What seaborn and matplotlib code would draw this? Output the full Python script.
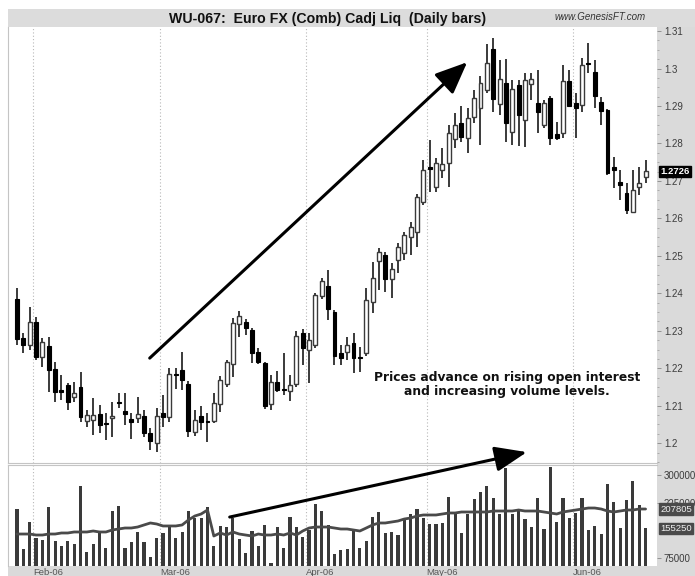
import matplotlib
matplotlib.use("Agg")
import matplotlib.pyplot as plt
from matplotlib.patches import Rectangle
from matplotlib.ticker import FixedLocator, FuncFormatter, MultipleLocator
import numpy as np
import pandas as pd
import seaborn as sns


# Daily bars, Euro FX, late Jan 2006 to mid Jun 2006
OPEN = [
    1.2385, 1.2280, 1.2262, 1.2323, 1.2230, 1.2259, 1.2198, 1.2142, 1.2155, 1.2123,
    1.2150, 1.2059, 1.2061, 1.2077, 1.2055, 1.2067, 1.2110, 1.2085, 1.2064, 1.2067,
    1.2072, 1.2027, 1.2000, 1.2080, 1.2069, 1.2184, 1.2195, 1.2158, 1.2029, 1.2072,
    1.2058, 1.2059, 1.2104, 1.2158, 1.2211, 1.2318, 1.2323, 1.2302, 1.2243, 1.2214,
    1.2104, 1.2163, 1.2144, 1.2139, 1.2158, 1.2294, 1.2248, 1.2262, 1.2392, 1.2419,
    1.2350, 1.2240, 1.2243, 1.2267, 1.2230, 1.2240, 1.2376, 1.2486, 1.2502, 1.2438,
    1.2489, 1.2507, 1.2550, 1.2563, 1.2643, 1.2737, 1.2684, 1.2729, 1.2748, 1.2812,
    1.2854, 1.2814, 1.2870, 1.2894, 1.2943, 1.3052, 1.2905, 1.2961, 1.2830, 1.2956,
    1.2862, 1.2959, 1.2908, 1.2849, 1.2921, 1.2825, 1.2828, 1.2967, 1.2908, 1.2902,
    1.3015, 1.2991, 1.2911, 1.2889, 1.2737, 1.2697, 1.2668, 1.2617, 1.2684, 1.2710,
]
HIGH = [
    1.2414, 1.2294, 1.2363, 1.2336, 1.2280, 1.2283, 1.2216, 1.2182, 1.2160, 1.2163,
    1.2190, 1.2088, 1.2120, 1.2101, 1.2080, 1.2109, 1.2134, 1.2134, 1.2080, 1.2123,
    1.2088, 1.2040, 1.2093, 1.2128, 1.2200, 1.2200, 1.2243, 1.2166, 1.2088, 1.2099,
    1.2080, 1.2134, 1.2179, 1.2222, 1.2334, 1.2352, 1.2331, 1.2307, 1.2254, 1.2216,
    1.2182, 1.2192, 1.2240, 1.2182, 1.2299, 1.2304, 1.2294, 1.2400, 1.2441, 1.2462,
    1.2355, 1.2262, 1.2283, 1.2294, 1.2256, 1.2414, 1.2483, 1.2521, 1.2510, 1.2481,
    1.2534, 1.2563, 1.2590, 1.2665, 1.2756, 1.2809, 1.2761, 1.2788, 1.2849, 1.2881,
    1.2900, 1.2894, 1.2943, 1.2980, 1.3065, 1.3081, 1.3023, 1.3025, 1.2969, 1.2969,
    1.2988, 1.2988, 1.2996, 1.2916, 1.2927, 1.2857, 1.3009, 1.2996, 1.2935, 1.3028,
    1.3068, 1.3023, 1.2924, 1.2892, 1.2764, 1.2729, 1.2694, 1.2729, 1.2737, 1.2756,
]
LOW = [
    1.2262, 1.2240, 1.2248, 1.2222, 1.2203, 1.2136, 1.2110, 1.2115, 1.2088, 1.2110,
    1.2056, 1.2043, 1.2021, 1.2027, 1.2008, 1.2016, 1.2093, 1.2048, 1.2011, 1.2053,
    1.2016, 1.1981, 1.1976, 1.2043, 1.2056, 1.2144, 1.2142, 1.2016, 1.2019, 1.2035,
    1.2003, 1.2053, 1.2083, 1.2150, 1.2176, 1.2283, 1.2288, 1.2214, 1.2211, 1.2091,
    1.2088, 1.2136, 1.2128, 1.2112, 1.2150, 1.2208, 1.2160, 1.2254, 1.2384, 1.2328,
    1.2208, 1.2208, 1.2222, 1.2187, 1.2190, 1.2232, 1.2347, 1.2409, 1.2403, 1.2387,
    1.2454, 1.2489, 1.2502, 1.2523, 1.2635, 1.2670, 1.2670, 1.2708, 1.2684, 1.2788,
    1.2804, 1.2774, 1.2854, 1.2796, 1.2935, 1.2884, 1.2876, 1.2804, 1.2796, 1.2793,
    1.2790, 1.2916, 1.2828, 1.2841, 1.2796, 1.2809, 1.2814, 1.2897, 1.2814, 1.2884,
    1.2988, 1.2894, 1.2849, 1.2716, 1.2681, 1.2649, 1.2611, 1.2614, 1.2662, 1.2694,
]
CLOSE = [
    1.2278, 1.2262, 1.2323, 1.2230, 1.2270, 1.2195, 1.2136, 1.2136, 1.2110, 1.2134,
    1.2069, 1.2075, 1.2075, 1.2048, 1.2052, 1.2072, 1.2107, 1.2077, 1.2056, 1.2077,
    1.2027, 1.2005, 1.2072, 1.2069, 1.2184, 1.2182, 1.2168, 1.2032, 1.2061, 1.2056,
    1.2056, 1.2107, 1.2168, 1.2216, 1.2320, 1.2339, 1.2307, 1.2240, 1.2216, 1.2099,
    1.2163, 1.2142, 1.2142, 1.2155, 1.2286, 1.2254, 1.2275, 1.2395, 1.2433, 1.2358,
    1.2232, 1.2227, 1.2262, 1.2227, 1.2227, 1.2382, 1.2441, 1.2510, 1.2438, 1.2465,
    1.2523, 1.2555, 1.2577, 1.2657, 1.2729, 1.2732, 1.2748, 1.2745, 1.2828, 1.2849,
    1.2817, 1.2868, 1.2921, 1.2961, 1.3015, 1.2919, 1.2972, 1.2854, 1.2945, 1.2876,
    1.2969, 1.2972, 1.2884, 1.2908, 1.2814, 1.2814, 1.2967, 1.2900, 1.2894, 1.3009,
    1.3012, 1.2927, 1.2886, 1.2721, 1.2729, 1.2689, 1.2622, 1.2676, 1.2694, 1.2726,
]
VOLUME = [
    207800, 99400, 172600, 129200, 123800, 213200, 121100, 107500, 121100, 112900,
    270200, 91300, 112900, 148200, 102100, 202400, 216000, 102100, 118400, 145500,
    118400, 77700, 129200, 142800, 164500, 129200, 145500, 202400, 183400, 183400,
    213200, 107500, 161800, 159000, 183400, 126500, 88600, 148200, 107500, 164500,
    61400, 159000, 102100, 186100, 159000, 131900, 150900, 221400, 202400, 164500,
    85800, 96700, 99400, 148200, 102100, 121100, 186100, 199700, 142800, 145500,
    137300, 178000, 194300, 207800, 183400, 167200, 167200, 169900, 240400, 197000,
    142800, 194300, 234900, 253900, 270200, 237600, 194300, 319000, 194300, 202400,
    180700, 159000, 237600, 153600, 321700, 172600, 237600, 183400, 197000, 237600,
    150900, 161800, 140000, 275600, 226800, 156300, 232200, 283700, 218700, 155250,
]
OPEN_INTEREST = [
    140000, 140000, 140000, 137300, 137300, 140000, 140000, 142800, 142800, 145500,
    145500, 145500, 148200, 145500, 145500, 150900, 153600, 156300, 156300, 159000,
    164500, 169900, 167200, 161800, 161800, 161800, 164500, 178000, 188800, 194300,
    205100, 134600, 142800, 137300, 145500, 140000, 137300, 134600, 140000, 137300,
    137300, 140000, 137300, 142800, 137300, 148200, 156300, 159000, 159000, 159000,
    156300, 153600, 153600, 150900, 148200, 156300, 164500, 169900, 169900, 172600,
    175300, 180700, 183400, 188800, 191600, 191600, 191600, 194300, 197000, 197000,
    199700, 199700, 199700, 199700, 199700, 202400, 202400, 202400, 202400, 205100,
    202400, 202400, 202400, 199700, 197000, 194300, 199700, 202400, 205100, 207800,
    210500, 210500, 207800, 202400, 199700, 202400, 205100, 205100, 207800, 207805,
]
MONTH_LABELS = ["Feb-06", "Mar-06", "Apr-06", "May-06", "Jun-06"]
MONTH_FIRST_BAR = [3, 23, 46, 65, 88]

PRICE_TICKS = [1.20, 1.21, 1.22, 1.23, 1.24, 1.25, 1.26, 1.27, 1.28, 1.29, 1.30, 1.31]
VOLUME_TICKS = [75000, 225000, 300000]

TITLE = "WU-067:  Euro FX (Comb) Cadj Liq  (Daily bars)"
NOTE = "Prices advance on rising open interest\nand increasing volume levels."

W, H = 695, 576
EDGE = "#3a3a3a"
GRID = "#b8b8b8"
PANEL_GRAY = "#dadada"


def fx(px):
    return px / W


def fy(px):
    return 1 - px / H


def main() -> None:
    sns.set_style("white")
    plt.rcParams["font.family"] = ["Liberation Sans", "DejaVu Sans"]

    df = pd.DataFrame({"open": OPEN, "high": HIGH, "low": LOW, "close": CLOSE,
                       "volume": VOLUME, "oi": OPEN_INTEREST})
    df["bar"] = np.arange(len(df))
    up = df[df["close"] >= df["open"]]
    down = df[df["close"] < df["open"]]
    bounds = [b - 0.5 for b in MONTH_FIRST_BAR]
    xlim = (-1.42, 100.8)

    fig = plt.figure(figsize=(W / 100, H / 100), dpi=100)
    fig.patches.append(Rectangle((fx(8), fy(27)), 1 - fx(8), 18 / H, transform=fig.transFigure,
                                 facecolor="#dcdcdc", edgecolor="none", zorder=-5))
    fig.patches.append(Rectangle((fx(657), 0), 1 - fx(657), fy(27), transform=fig.transFigure,
                                 facecolor=PANEL_GRAY, edgecolor="none", zorder=-5))
    fig.patches.append(Rectangle((fx(8), 0), 1 - fx(8), 10 / H, transform=fig.transFigure,
                                 facecolor=PANEL_GRAY, edgecolor="none", zorder=-5))

    ax = fig.add_axes([fx(8), fy(463), fx(657) - fx(8), 436 / H])
    axv = fig.add_axes([fx(8), fy(566), fx(657) - fx(8), 101 / H])

    # candles
    ax.vlines(df["bar"], df["low"], df["high"], color=EDGE, lw=1.4, zorder=2)
    ax.bar(up["bar"], np.maximum(up["close"] - up["open"], 0.0003), bottom=up["open"],
           width=0.62, color="white", edgecolor=EDGE, lw=1.0, zorder=3)
    ax.bar(down["bar"], np.maximum(down["open"] - down["close"], 0.0003), bottom=down["close"],
           width=0.62, color="black", edgecolor="black", lw=0.8, zorder=3)

    ax.set_xlim(*xlim)
    ax.set_ylim(1.1947, 1.3111)
    ax.set_xticks(bounds)
    ax.set_xticklabels([])
    ax.grid(axis="x", color=GRID, ls=(0, (1, 2)), lw=0.8)
    ax.yaxis.tick_right()
    ax.yaxis.set_major_locator(FixedLocator(PRICE_TICKS))
    ax.yaxis.set_major_formatter(FuncFormatter(lambda v, p: f"{v:.2f}".rstrip("0")))
    ax.yaxis.set_minor_locator(MultipleLocator(0.0025))
    ax.tick_params(axis="y", which="major", right=True, length=3, width=0.6, color="#888888",
                   labelsize=7, labelcolor="#3c3c3c", pad=2)
    ax.tick_params(axis="y", which="minor", right=True, length=1.5, width=0.5, color="#999999")
    ax.tick_params(axis="x", length=0)
    for side in ["top", "right"]:
        ax.spines[side].set_visible(False)
    for side in ["left", "bottom"]:
        ax.spines[side].set_color("#c4c4c4")
        ax.spines[side].set_linewidth(0.8)

    ax.annotate("", xy=(70.9, 1.3017), xytext=(20.9, 1.2227),
                arrowprops=dict(arrowstyle="-|>,head_length=1.4,head_width=0.6",
                                lw=2.2, color="black", mutation_scale=14, shrinkA=0, shrinkB=0))
    ax.text(77.2, 1.2156, NOTE, ha="center", va="center", fontsize=8.8, fontweight="bold",
            family="DejaVu Sans", linespacing=1.15, color="#111111")
    ax.annotate("1.2726", xy=(1.0, 1.2726), xycoords=("axes fraction", "data"),
                xytext=(2.5, 0), textcoords="offset points", ha="left", va="center",
                fontsize=6.8, fontweight="bold", color="white", annotation_clip=False,
                bbox=dict(boxstyle="square,pad=0.12", fc="black", ec="black"))

    # volume + open interest
    sns.barplot(data=df, x="bar", y="volume", native_scale=True, color="#3a3a3a",
                saturation=1, width=0.5, errorbar=None, linewidth=0, ax=axv, zorder=2)
    sns.lineplot(data=df, x="bar", y="oi", color="#4a4a4a", lw=2.0, ax=axv, zorder=3)
    axv.set_xlim(*xlim)
    axv.set_ylim(53300, 327100)
    axv.set_xlabel("")
    axv.set_ylabel("")
    axv.set_xticks(bounds)
    axv.set_xticklabels(MONTH_LABELS)
    for lab in axv.get_xticklabels():
        lab.set_horizontalalignment("left")
    axv.tick_params(axis="x", length=0, labelsize=6.8, labelcolor="#555555", pad=1.5)
    axv.grid(axis="x", color=GRID, ls=(0, (1, 2)), lw=0.8)
    axv.yaxis.tick_right()
    axv.yaxis.set_major_locator(FixedLocator(VOLUME_TICKS))
    axv.yaxis.set_major_formatter(FuncFormatter(lambda v, p: f"{v:.0f}"))
    axv.tick_params(axis="y", right=True, length=3, width=0.6, color="#888888",
                    labelsize=7, labelcolor="#3c3c3c", pad=2)
    for side in ["right", "bottom"]:
        axv.spines[side].set_visible(False)
    for side in ["left", "top"]:
        axv.spines[side].set_color("#c4c4c4")
        axv.spines[side].set_linewidth(0.8)

    for val in [OPEN_INTEREST[-1], VOLUME[-1]]:
        axv.annotate(f"{val}", xy=(1.0, val), xycoords=("axes fraction", "data"),
                     xytext=(2.5, 0), textcoords="offset points", ha="left", va="center",
                     fontsize=6.8, color="#f0f0f0", annotation_clip=False,
                     bbox=dict(boxstyle="square,pad=0.12", fc="#4a4a4a", ec="#4a4a4a"))

    axv.annotate("", xy=(80.3, 362000), xytext=(33.5, 186000), annotation_clip=False,
                 arrowprops=dict(arrowstyle="-|>,head_length=1.4,head_width=0.55",
                                 lw=2.2, color="black", mutation_scale=14, shrinkA=0, shrinkB=0))

    fig.text(fx(328), fy(19), TITLE, ha="center", va="center", fontsize=10.2,
             fontweight="bold", color="#111111")
    fig.text(fx(600), fy(17), "www.GenesisFT.com", ha="center", va="center", fontsize=7,
             fontstyle="italic", color="#333333")

    fig.savefig("out.png", dpi=100)
    plt.close(fig)


if __name__ == "__main__":
    main()
